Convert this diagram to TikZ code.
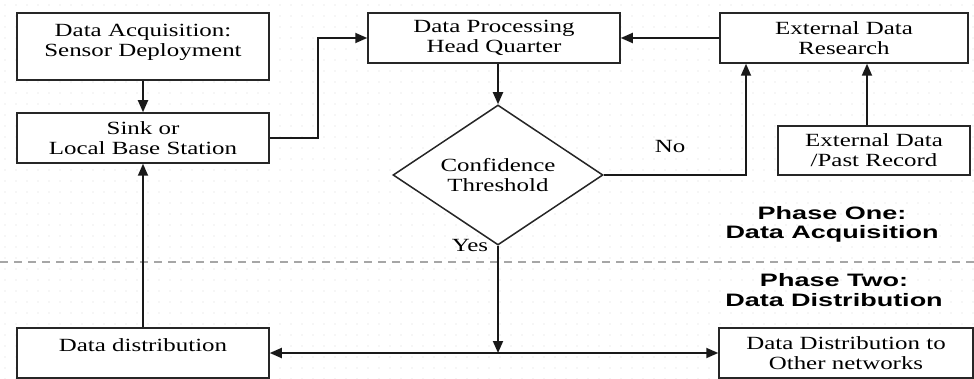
\documentclass[tikz,border=0pt]{standalone}
\usepackage{fontspec}
\setmainfont[FakeStretch=1.34]{Liberation Serif}
\newfontfamily\phasefont[FakeStretch=1.5]{Liberation Sans Bold}
\usetikzlibrary{shapes.geometric,arrows.meta,calc}

\begin{document}
\begin{tikzpicture}[x=0.5pt,y=-0.5pt,
  box/.style={draw=black!85,line width=0.75pt,fill=white,minimum height=25pt,
    inner sep=0pt,align=center,font=\fontsize{9.3}{10}\selectfont},
  decision/.style={draw=black!85,line width=0.75pt,fill=white,diamond,aspect=1.5,
    inner sep=0pt,minimum width=105pt,minimum height=70pt,align=center,
    font=\fontsize{9.3}{10}\selectfont},
  link/.style={draw=black!90,line width=0.9pt,-{Triangle[length=6pt,width=5pt]}},
  plain/.style={draw=black!90,line width=0.9pt},
  tag/.style={font=\fontsize{9.3}{10}\selectfont,inner sep=0pt},
  phase/.style={font=\phasefont\fontsize{9}{9.6}\selectfont,align=center,inner sep=0pt},
  separator/.style={draw=gray!70,line width=0.8pt,dash pattern=on 4pt off 3pt}]

% canvas with a faint dot grid
\fill[white] (0,0) rectangle (974,379);
\useasboundingbox (0,0) rectangle (974,379);
\foreach \i in {0,...,88}
  \foreach \j in {0,...,34}
    \fill[gray!30] (5+\i*11,5+\j*11) circle (0.35pt);

% phase separator
\coordinate (sepL) at (0,262);
\coordinate (sepR) at (974,262);
\draw[separator] (sepL) -- (sepR);

% blocks
\node[box,minimum width=126pt,minimum height=33.5pt,text depth=6.5pt] (acq) at (143,46.5) {Data Acquisition:\\Sensor Deployment};
\node[box,minimum width=126pt] (sink) at (143,138) {Sink or\\Local Base Station};
\node[box,minimum width=126pt] (hq) at (494,38) {Data Processing\\Head Quarter};
\node[box,minimum width=124pt] (edr) at (844,38) {External Data\\Research};
\node[box,minimum width=96pt,minimum height=24.5pt] (past) at (874,150.5) {External Data\\/Past Record};
\node[decision] (conf) at (498,175) {Confidence\\Threshold};
\node[box,minimum width=126pt,text depth=8pt] (dist) at (143,353) {Data distribution};
\node[box,minimum width=127pt] (other) at (846,353) {Data Distribution to\\Other networks};

% phase titles
\node[phase] (p1) at (832,224) {Phase One:\\Data Acquisition};
\node[phase] (p2) at (834,290) {Phase Two:\\Data Distribution};

% bend points
\coordinate (upA) at (318,138);
\coordinate (noB) at (746,177);
\coordinate (junc) at (498,353);

% connectors
\draw[link] (acq.south) -- (sink.north);
\draw[link] (dist.north) -- (sink.south);
\draw[link] (sink.east) -- (upA) -- (upA |- hq.west) -- (hq.west);
\draw[link] (edr.west) -- (hq.east);
\draw[link] (hq.south -| conf.north) -- (conf.north);
\draw[link] (conf.east) -| (noB |- edr.south);
\draw[link] ([xshift=-3.5pt]past.north) -- ([xshift=-3.5pt]past.north |- edr.south);
\draw[link] (conf.south) -- (junc);
\draw[plain,{Triangle[length=6pt,width=5pt]}-{Triangle[length=6pt,width=5pt]}] (dist.east) -- (other.west);

% branch labels
\node[tag] (no) at (670,147) {No};
\node[tag] (yes) at (470,246) {Yes};
\end{tikzpicture}
\end{document}
